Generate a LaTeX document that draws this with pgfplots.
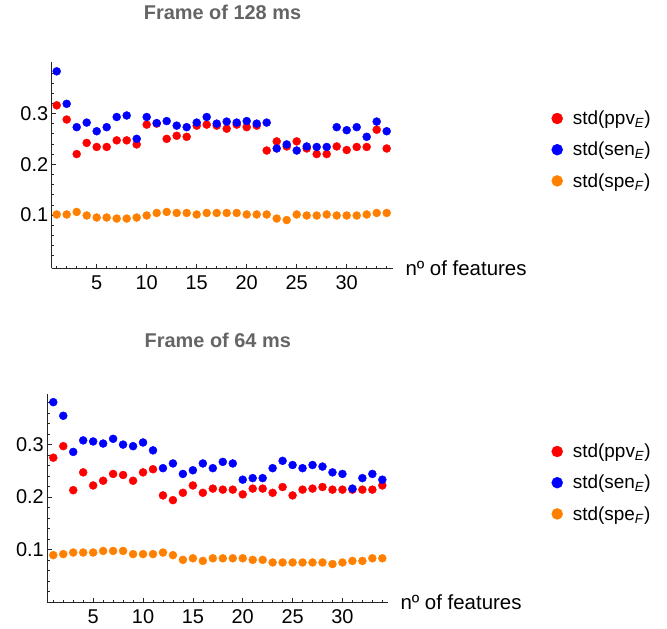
\documentclass[border=0pt]{standalone}
\usepackage{fontspec}
\setmainfont{Liberation Sans}
\usepackage{pgfplots}
\pgfplotsset{compat=1.18}
\definecolor{mred}{rgb}{1,0,0}
\definecolor{mblue}{rgb}{0,0,1}
\definecolor{morange}{rgb}{1,0.5,0}
\definecolor{titlegray}{RGB}{100,100,100}

\pgfplotstableread{
x ppv sen spe
1 0.316 0.383 0.101
2 0.288 0.319 0.101
3 0.220 0.273 0.106
4 0.242 0.282 0.099
5 0.234 0.265 0.095
6 0.234 0.273 0.095
7 0.247 0.293 0.093
8 0.247 0.296 0.093
9 0.239 0.250 0.095
10 0.278 0.293 0.099
11 0.280 0.281 0.104
12 0.250 0.285 0.106
13 0.256 0.276 0.104
14 0.254 0.273 0.104
15 0.276 0.282 0.101
16 0.278 0.293 0.104
17 0.276 0.280 0.104
18 0.270 0.284 0.104
19 0.278 0.282 0.104
20 0.273 0.285 0.101
21 0.276 0.280 0.101
22 0.227 0.282 0.101
23 0.245 0.231 0.093
24 0.235 0.239 0.090
25 0.245 0.227 0.101
26 0.231 0.235 0.099
27 0.220 0.234 0.099
28 0.220 0.234 0.101
29 0.235 0.273 0.099
30 0.228 0.267 0.099
31 0.234 0.273 0.099
32 0.234 0.254 0.101
33 0.268 0.284 0.104
34 0.231 0.265 0.104
}\tabA

\pgfplotstableread{
x ppv sen spe
1 0.275 0.381 0.089
2 0.297 0.355 0.091
3 0.213 0.286 0.094
4 0.247 0.308 0.094
5 0.222 0.306 0.094
6 0.231 0.302 0.097
7 0.244 0.311 0.097
8 0.242 0.300 0.097
9 0.231 0.297 0.091
10 0.247 0.304 0.091
11 0.253 0.289 0.091
12 0.203 0.255 0.094
13 0.194 0.264 0.089
14 0.208 0.244 0.080
15 0.222 0.251 0.083
16 0.208 0.264 0.078
17 0.216 0.255 0.083
18 0.214 0.267 0.083
19 0.214 0.264 0.083
20 0.205 0.233 0.083
21 0.216 0.236 0.080
22 0.216 0.236 0.080
23 0.208 0.255 0.075
24 0.219 0.269 0.075
25 0.203 0.261 0.075
26 0.214 0.255 0.075
27 0.216 0.261 0.075
28 0.219 0.258 0.075
29 0.214 0.247 0.072
30 0.214 0.244 0.075
31 0.214 0.216 0.078
32 0.214 0.236 0.078
33 0.214 0.244 0.083
34 0.222 0.233 0.083
}\tabB

\pgfplotsset{
  framestyle/.style={
    scale only axis,
    axis lines=left,
    axis line style={-, black!85, line width=0.8bp},
    xtick={5,10,...,30},
    minor xtick={1,...,34},
    ytick={0.1,0.2,0.3},
    minor ytick={0.02,0.04,0.06,0.08,0.12,0.14,0.16,0.18,0.22,0.24,0.26,0.28,0.32,0.34,0.36,0.38},
    tick align=inside,
    major tick length=4.5bp,
    minor tick length=2.5bp,
    tick style={black!85, line width=0.6bp},
    /pgf/number format/assume math mode=true,
    ticklabel style={font=\fontsize{20}{24}\selectfont},
    xticklabel shift=3.5bp,
    xlabel={nº of features},
    xlabel style={at={(rel axis cs:1,0)}, anchor=west, font=\fontsize{20.5}{24}\selectfont, inner sep=0pt, xshift=12bp},
    legend image code/.code={\fill (0bp,0bp) circle (5.5bp);},
    legend cell align=left,
    legend style={draw=none, fill=none, inner sep=0pt, font=\fontsize{19}{23}\selectfont, anchor=west, row sep=12bp, column sep=8bp},
    title style={font=\bfseries\fontsize{20}{24}\selectfont, text=titlegray, at={(0.5,1)}, anchor=base},
    clip=false,
  },
  dotstyle/.style={only marks, mark=*, mark size=4bp, color=#1, mark options={draw=none}},
}

\begin{document}
\begin{tikzpicture}[x=1bp,y=1bp]
\useasboundingbox (0,0) rectangle (667,629);

\begin{axis}[framestyle,
  at={(51.7bp,360.7bp)}, anchor=south west,
  width=341.6bp, height=206.6bp,
  xmin=0.5, xmax=34.66, ymin=-0.005, ymax=0.402,
  title={Frame of 128 ms}, title style={yshift=36.7bp},
  legend style={at={(rel axis cs:1,0.574)}, xshift=158bp},
]
\addplot[dotstyle=mred] table[x=x,y=ppv] {\tabA};
\addlegendentry{std(ppv\textsubscript{\textit{E}})}
\addplot[dotstyle=mblue] table[x=x,y=sen] {\tabA};
\addlegendentry{std(sen\textsubscript{\textit{E}})}
\addplot[dotstyle=morange] table[x=x,y=spe] {\tabA};
\addlegendentry{std(spe\textsubscript{\textit{F}})}
\end{axis}

\begin{axis}[framestyle,
  at={(47.3bp,26.7bp)}, anchor=south west,
  width=341bp, height=208bp,
  xmin=0.4, xmax=34.6, ymin=-0.001, ymax=0.396,
  title={Frame of 64 ms}, title style={yshift=40.7bp},
  legend style={at={(rel axis cs:1,0.575)}, xshift=163bp},
]
\addplot[dotstyle=mred] table[x=x,y=ppv] {\tabB};
\addlegendentry{std(ppv\textsubscript{\textit{E}})}
\addplot[dotstyle=mblue] table[x=x,y=sen] {\tabB};
\addlegendentry{std(sen\textsubscript{\textit{E}})}
\addplot[dotstyle=morange] table[x=x,y=spe] {\tabB};
\addlegendentry{std(spe\textsubscript{\textit{F}})}
\end{axis}
\end{tikzpicture}
\end{document}
